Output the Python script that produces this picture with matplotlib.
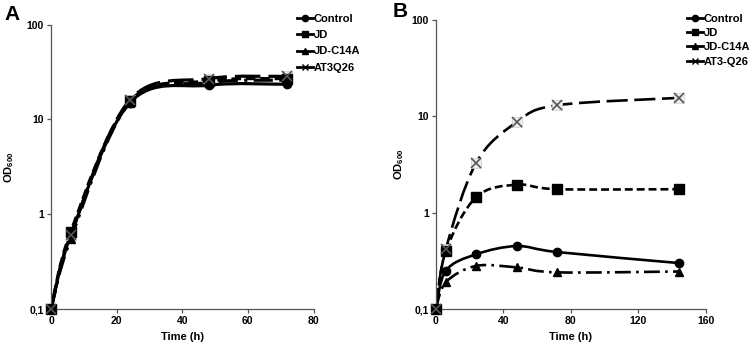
import numpy as np
import matplotlib
matplotlib.use("Agg")
import matplotlib.pyplot as plt
from matplotlib.path import Path
from matplotlib.patches import PathPatch
from matplotlib.lines import Line2D

plt.rcParams['font.family'] = ['Liberation Sans', 'DejaVu Sans']
plt.rcParams['font.weight'] = 'bold'
plt.rcParams['mathtext.fontset'] = 'custom'
plt.rcParams['mathtext.rm'] = 'Liberation Sans:bold'
plt.rcParams['mathtext.it'] = 'Liberation Sans:bold'
plt.rcParams['mathtext.bf'] = 'Liberation Sans:bold'
plt.rcParams['mathtext.default'] = 'bf'

# ---- Panel A data ----
time_a = [0, 6, 24, 48, 72]
control_a = [0.1, 0.60, 15.0, 23.0, 23.5]
jd_a = [0.1, 0.65, 15.5, 25.5, 27.0]
jdc14a_a = [0.1, 0.55, 15.0, 24.5, 26.0]
at3q26_a = [0.1, 0.60, 16.0, 27.0, 28.5]
labels_a = ["Control", "JD", "JD-C14A", "AT3Q26"]

# ---- Panel B data ----
time_b = [0, 6, 24, 48, 72, 144]
control_b = [0.1, 0.25, 0.37, 0.45, 0.39, 0.30]
jd_b = [0.1, 0.40, 1.45, 1.95, 1.75, 1.75]
jdc14a_b = [0.1, 0.19, 0.28, 0.27, 0.24, 0.245]
at3q26_b = [0.1, 0.42, 3.3, 8.7, 13.0, 15.5]
labels_b = ["Control", "JD", "JD-C14A", "AT3-Q26"]

yticks = [0.1, 1, 10, 100]
yticklabels = ["0,1", "1", "10", "100"]

markers = ['o', 's', '^', 'x']
styles = ['-', (0, (3, 1.5)), (0, (6, 2, 1, 2)), (0, (8, 2.5))]


def smooth_path(x, y):
    # Excel-style smoothed line: Bezier through points in (x, log10 y)
    x = np.asarray(x, float)
    ly = np.log10(np.asarray(y, float))
    n = len(x)
    verts = [(x[0], ly[0])]
    codes = [Path.MOVETO]
    for i in range(n - 1):
        p0 = np.array([x[max(i - 1, 0)], ly[max(i - 1, 0)]])
        p1 = np.array([x[i], ly[i]])
        p2 = np.array([x[i + 1], ly[i + 1]])
        p3 = np.array([x[min(i + 2, n - 1)], ly[min(i + 2, n - 1)]])
        c1 = p1 + (p2 - p0) / 6.0
        c2 = p2 - (p3 - p1) / 6.0
        verts += [tuple(c1), tuple(c2), tuple(p2)]
        codes += [Path.CURVE4] * 3
    verts = [(vx, 10 ** vy) for vx, vy in verts]
    return Path(verts, codes)


def draw_panel(ax, t, series, labels, xmax, xticks, lw, leg_xy, leg_space,
               ylab_x):
    for k, (vals, lab) in enumerate(zip(series, labels)):
        p = smooth_path(t, vals)
        patch = PathPatch(p, facecolor='none', edgecolor='black', lw=lw,
                          linestyle=styles[k], capstyle='butt', zorder=2)
        ax.add_patch(patch)
        if markers[k] == 'x':
            ax.plot(t, vals, linestyle='none', marker='s', ms=6.5,
                    mfc='#eeeeee', mec='#cccccc', mew=0.5, zorder=2.5,
                    clip_on=False)
            ax.plot(t, vals, linestyle='none', marker='x', ms=6.5, mew=1.2,
                    color='#555555', zorder=3, clip_on=False)
        else:
            ms = 6.5 if markers[k] == 's' else 6
            ax.plot(t, vals, linestyle='none', marker=markers[k], ms=ms,
                    color='black', zorder=3, clip_on=False)
    ax.set_yscale('log')
    ax.set_ylim(0.1, 100)
    ax.set_xlim(0, xmax)
    ax.set_xticks(xticks)
    ax.set_yticks(yticks)
    ax.set_yticklabels(yticklabels)
    ax.minorticks_off()
    for s in ['top', 'right']:
        ax.spines[s].set_visible(False)
    for s in ['left', 'bottom']:
        ax.spines[s].set_color('#555555')
        ax.spines[s].set_linewidth(0.9)
    ax.tick_params(direction='out', length=3, width=0.9, color='#555555',
                   labelsize=7.5, pad=2)
    for lab in ax.get_xticklabels() + ax.get_yticklabels():
        lab.set_fontweight('bold')
    ax.set_xlabel("Time (h)", fontsize=8, fontweight='bold', labelpad=4)
    ax.set_ylabel(r"OD$_{600}$", fontsize=8, fontweight='bold')
    ax.yaxis.set_label_coords(ylab_x, 0.5)
    handles = [Line2D([0], [0], color='black', lw=2, marker=m, ms=4.5,
                      mew=1.0) for m in markers]
    leg = ax.legend(handles, labels, loc='upper left',
                    bbox_to_anchor=leg_xy, bbox_transform=fig.transFigure,
                    frameon=False, fontsize=8, handlelength=1.4,
                    handletextpad=0.1, labelspacing=leg_space,
                    borderaxespad=0, borderpad=0)
    for txt in leg.get_texts():
        txt.set_fontweight('bold')


fig = plt.figure(figsize=(7.5, 3.48), dpi=100)
axA = fig.add_axes([0.068, 0.112, 0.350, 0.817])
axB = fig.add_axes([0.581, 0.112, 0.360, 0.831])

draw_panel(axA, time_a, [control_a, jd_a, jdc14a_a, at3q26_a], labels_a,
           80, [0, 20, 40, 60, 80], 2.3, (0.396, 0.961), 0.58, -0.135)
draw_panel(axB, time_b, [control_b, jd_b, jdc14a_b, at3q26_b], labels_b,
           160, [0, 40, 80, 120, 160], 1.9, (0.916, 0.960), 0.38, -0.11)

fig.text(0.006, 0.985, "A", fontsize=15, fontweight='bold', va='top')
fig.text(0.523, 0.995, "B", fontsize=15, fontweight='bold', va='top')

fig.savefig("out.png", dpi=100)
